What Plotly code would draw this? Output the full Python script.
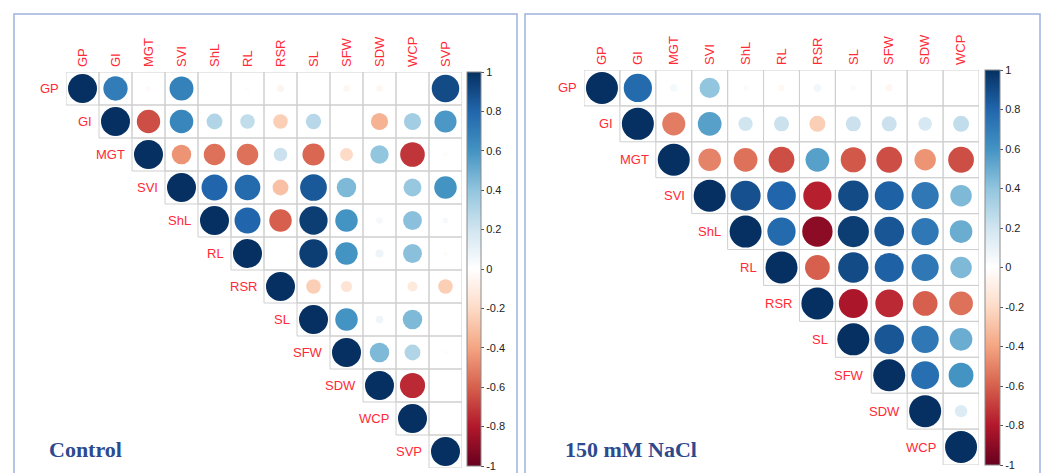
import plotly.graph_objects as go

W, H = 1046, 473

# ---------------- data ----------------
vars_ctrl = ["GP", "GI", "MGT", "SVI", "ShL", "RL", "RSR", "SL", "SFW", "SDW", "WCP", "SVP"]
vars_salt = ["GP", "GI", "MGT", "SVI", "ShL", "RL", "RSR", "SL", "SFW", "SDW", "WCP"]

# Control: upper triangle rows (each row starts at its diagonal)
ctrl_GP  = [1, 0.70, -0.03, 0.68, 0.01, -0.02, -0.06, 0.00, -0.05, -0.05, 0.01, 0.90]
ctrl_GI  = [1, -0.65, 0.66, 0.30, 0.25, -0.25, 0.28, 0.00, -0.35, 0.35, 0.58]
ctrl_MGT = [1, -0.45, -0.55, -0.55, 0.22, -0.58, -0.20, 0.40, -0.72, -0.02]
ctrl_SVI = [1, 0.80, 0.78, -0.30, 0.85, 0.45, 0.00, 0.38, 0.60]
ctrl_ShL = [1, 0.80, -0.60, 0.95, 0.60, 0.05, 0.42, 0.04]
ctrl_RL  = [1, 0.00, 0.95, 0.60, 0.08, 0.42, -0.02]
ctrl_RSR = [1, -0.25, -0.15, 0.00, -0.12, -0.25]
ctrl_SL  = [1, 0.60, 0.07, 0.45, 0.00]
ctrl_SFW = [1, 0.45, 0.30, -0.02]
ctrl_SDW = [1, -0.75, 0.00]
ctrl_WCP = [1, -0.01]
ctrl_SVP = [1]
ctrl_rows = [ctrl_GP, ctrl_GI, ctrl_MGT, ctrl_SVI, ctrl_ShL, ctrl_RL,
             ctrl_RSR, ctrl_SL, ctrl_SFW, ctrl_SDW, ctrl_WCP, ctrl_SVP]

# 150 mM NaCl
salt_GP  = [1, 0.78, 0.05, 0.40, -0.03, -0.04, 0.06, -0.03, -0.05, 0.01, 0.01]
salt_GI  = [1, -0.52, 0.55, 0.20, 0.22, -0.25, 0.22, 0.22, 0.18, 0.25]
salt_MGT = [1, -0.50, -0.55, -0.65, 0.55, -0.62, -0.65, -0.45, -0.65]
salt_SVI = [1, 0.88, 0.80, -0.78, 0.90, 0.82, 0.72, 0.45]
salt_ShL = [1, 0.78, -0.90, 0.95, 0.86, 0.72, 0.50]
salt_RL  = [1, -0.60, 0.90, 0.82, 0.72, 0.45]
salt_RSR = [1, -0.82, -0.75, -0.60, -0.55]
salt_SL  = [1, 0.86, 0.72, 0.50]
salt_SFW = [1, 0.76, 0.60]
salt_SDW = [1, 0.15]
salt_WCP = [1]
salt_rows = [salt_GP, salt_GI, salt_MGT, salt_SVI, salt_ShL, salt_RL,
             salt_RSR, salt_SL, salt_SFW, salt_SDW, salt_WCP]

cb_ticks = [-1, -0.8, -0.6, -0.4, -0.2, 0, 0.2, 0.4, 0.6, 0.8, 1]
cb_text = ["-1", "-0.8", "-0.6", "-0.4", "-0.2", "0", "0.2", "0.4", "0.6", "0.8", "1"]

titles = ["Control", "150 mM NaCl"]

# ---------------- style ----------------
RDBU = ["#67001F", "#B2182B", "#D6604D", "#F4A582", "#FDDBC7", "#FFFFFF",
        "#D1E5F0", "#92C5DE", "#4393C3", "#2166AC", "#053061"]
colorscale = [[i / (len(RDBU) - 1), c] for i, c in enumerate(RDBU)]
LABEL_RED = "#FF2A35"

panels = [
    dict(vars=vars_ctrl, rows=ctrl_rows, grid=(66, 462, 72, 468), maxd=29,
         cb=(467, 14, 72, 466), box=(14, 517), title_x=47),
    dict(vars=vars_salt, rows=salt_rows, grid=(584, 979, 70, 465), maxd=32,
         cb=(985, 15, 70, 465), box=(525, 1040), title_x=563),
]

fig = go.Figure()
annotations = []
shapes = []

for k, p in enumerate(panels):
    n = len(p["vars"])
    x0, x1, y0, y1 = p["grid"]
    cell = (x1 - x0) / n
    xa = "x" if k == 0 else "x2"
    ya = "y" if k == 0 else "y2"

    cx, cy, cr = [], [], []
    for i, row in enumerate(p["rows"]):
        for off, r in enumerate(row):
            cx.append(i + off)
            cy.append(i)
            cr.append(r)

    # cell borders
    fig.add_trace(go.Scatter(
        x=cx, y=cy, mode="markers", xaxis=xa, yaxis=ya, hoverinfo="skip",
        showlegend=False,
        marker=dict(symbol="square-open", size=cell, color="#CFCFCF",
                    opacity=1, line=dict(width=1))))

    # circles (area ~ |r|)
    sizes = [p["maxd"] * abs(r) ** 0.5 for r in cr]
    cbx, cbw, cby0, cby1 = p["cb"]
    fig.add_trace(go.Scatter(
        x=cx, y=cy, mode="markers", xaxis=xa, yaxis=ya, showlegend=False,
        text=[f"{r:.2f}" for r in cr], hoverinfo="text",
        marker=dict(symbol="circle", size=sizes, color=cr, colorscale=colorscale,
                    cmin=-1, cmax=1, opacity=1, line=dict(width=0), showscale=True,
                    colorbar=dict(
                        x=cbx / W, xanchor="left", xref="paper", xpad=0,
                        y=1 - cby0 / H, yanchor="top", yref="paper", ypad=0,
                        len=(cby1 - cby0) / H, lenmode="fraction",
                        thickness=cbw, thicknessmode="pixels",
                        outlinewidth=1, outlinecolor="#8A8A8A",
                        ticks="outside", ticklen=3, tickcolor="#555",
                        tickvals=cb_ticks, ticktext=cb_text,
                        tickfont=dict(family="Arial, Liberation Sans", size=11,
                                      color="#222")))))

    # row labels next to diagonal
    for i, v in enumerate(p["vars"]):
        annotations.append(dict(
            x=i - 0.5, y=i, xref=xa, yref=ya, text=v, showarrow=False,
            xanchor="right", yanchor="middle", xshift=-5,
            font=dict(family="Arial, Liberation Sans", size=13, color=LABEL_RED)))

    axx = dict(domain=[x0 / W, x1 / W], range=[-0.5, n - 0.5], side="top",
               tickmode="array", tickvals=list(range(n)), ticktext=p["vars"],
               tickangle=-90, ticks="", showgrid=False, zeroline=False,
               showline=False, fixedrange=True, ticklabelstandoff=4,
               tickfont=dict(family="Arial, Liberation Sans", size=13, color=LABEL_RED),
               anchor=ya)
    axy = dict(domain=[1 - y1 / H, 1 - y0 / H], range=[n - 0.5, -0.5],
               showticklabels=False, ticks="", showgrid=False, zeroline=False,
               showline=False, fixedrange=True, anchor=xa)
    if k == 0:
        fig.update_layout(xaxis=axx, yaxis=axy)
    else:
        fig.update_layout(xaxis2=axx, yaxis2=axy)

    # panel frame
    bx0, bx1 = p["box"]
    shapes.append(dict(type="rect", xref="paper", yref="paper",
                       x0=bx0 / W, x1=bx1 / W, y0=-0.05, y1=1 - 14 / H,
                       line=dict(color="#9FB3DE", width=1.5), layer="below"))

    annotations.append(dict(
        x=p["title_x"] / W, y=1 - 449 / H, xref="paper", yref="paper",
        text=f"<b>{titles[k]}</b>", showarrow=False, xanchor="left",
        yanchor="middle",
        font=dict(family="Liberation Serif, Times New Roman, serif", size=22,
                  color="#2C4A8E")))

fig.update_layout(
    width=W, height=H, margin=dict(l=0, r=0, t=0, b=0),
    paper_bgcolor="white", plot_bgcolor="rgba(0,0,0,0)",
    annotations=annotations, shapes=shapes, showlegend=False)

fig.write_html("out.html",
               config={"displayModeBar": False},
               post_script="document.body.style.margin='0';"
                           "document.body.style.overflow='hidden';")
